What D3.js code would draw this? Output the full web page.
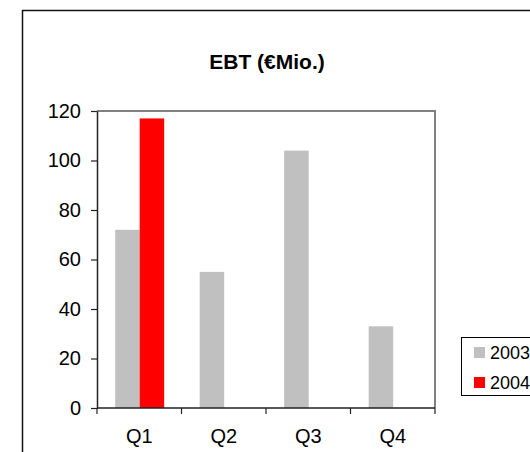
<!DOCTYPE html>
<html>
<head>
<meta charset="utf-8">
<script src="https://cdn.jsdelivr.net/npm/d3@7"></script>
<style>
  html, body { margin: 0; padding: 0; background: #fff; }
  svg { display: block; font-family: "Liberation Sans", Arial, sans-serif; }
</style>
</head>
<body>
<svg id="chart" width="530" height="452"></svg>
<script>
// Quarterly EBT in € million
const quarters = ["Q1", "Q2", "Q3", "Q4"];
const years = ["2003", "2004"];
const ebt2003 = [72, 55, 104, 33];
const ebt2004 = [117, null, null, null];
const yTicks = [0, 20, 40, 60, 80, 100, 120];
const colors = ["#c0c0c0", "#ff0000"];

const seriesValues = [ebt2003, ebt2004];

const svg = d3.select("#chart");

// outer chart frame (runs off the right and bottom edge)
svg.append("rect")
  .attr("x", 22.5).attr("y", 10.5)
  .attr("width", 600).attr("height", 600)
  .attr("fill", "#fff").attr("stroke", "#111").attr("stroke-width", 1.5);

const plot = { left: 97, right: 435, top: 111, bottom: 408 };

const x = d3.scaleBand().domain(quarters).range([plot.left, plot.right]).padding(0);
const xs = d3.scaleBand().domain(years)
  .range([x.bandwidth() * 0.215, x.bandwidth() * 0.795]);
const y = d3.scaleLinear().domain([0, 120]).range([plot.bottom, plot.top]);

// title
svg.append("text")
  .attr("x", 267).attr("y", 69)
  .attr("text-anchor", "middle")
  .attr("font-weight", "bold").attr("font-size", 21)
  .text("EBT (€Mio.)");

// bars
const rows = [];
quarters.forEach((q, i) => {
  years.forEach((yr, j) => {
    const v = seriesValues[j][i];
    if (v != null) rows.push({ q, yr, v, c: colors[j] });
  });
});
svg.append("g").selectAll("rect").data(rows).join("rect")
  .attr("x", d => x(d.q) + xs(d.yr))
  .attr("width", xs.bandwidth())
  .attr("y", d => y(d.v))
  .attr("height", d => y(0) - y(d.v))
  .attr("fill", d => d.c);

// plot area border (top and right)
svg.append("path")
  .attr("d", `M${plot.left},${plot.top}H${plot.right}V${plot.bottom}`)
  .attr("fill", "none").attr("stroke", "#808080").attr("stroke-width", 2);

// y axis
const yAxis = svg.append("g")
  .attr("transform", `translate(${plot.left},0)`)
  .call(d3.axisLeft(y).tickValues(yTicks).tickSize(6).tickPadding(10).tickSizeOuter(0));
yAxis.select(".domain").attr("stroke", "#222").attr("stroke-width", 1.5);
yAxis.selectAll(".tick line").attr("stroke", "#222").attr("stroke-width", 1.2);
yAxis.selectAll(".tick text").attr("font-size", 20).attr("fill", "#000")
  .attr("font-family", "Liberation Sans, Arial, sans-serif");

// x axis with ticks at category boundaries
const xAxis = svg.append("g")
  .attr("transform", `translate(0,${plot.bottom})`);
xAxis.append("path")
  .attr("d", `M${plot.left},0H${plot.right}`)
  .attr("stroke", "#222").attr("stroke-width", 1.5);
const bounds = quarters.map(q => x(q)).concat([x(quarters[quarters.length - 1]) + x.bandwidth()]);
xAxis.selectAll("line.bt").data(bounds).join("line")
  .attr("class", "bt")
  .attr("x1", d => d).attr("x2", d => d)
  .attr("y1", 0).attr("y2", 6)
  .attr("stroke", "#222").attr("stroke-width", 1.2);
xAxis.selectAll("text").data(quarters).join("text")
  .attr("x", d => x(d) + x.bandwidth() / 2)
  .attr("y", 35)
  .attr("text-anchor", "middle")
  .attr("font-size", 20)
  .text(d => d);

// legend
const lg = svg.append("g");
lg.append("rect")
  .attr("x", 461.5).attr("y", 337.5)
  .attr("width", 120).attr("height", 58)
  .attr("fill", "#fff").attr("stroke", "#000").attr("stroke-width", 1);
const items = lg.selectAll("g.item").data(years).join("g")
  .attr("class", "item")
  .attr("transform", (d, i) => `translate(474,${347 + i * 30})`);
items.append("rect")
  .attr("width", 11).attr("height", 11)
  .attr("fill", (d, i) => colors[i]);
items.append("text")
  .attr("x", 16).attr("y", 11.5)
  .attr("font-size", 18)
  .text(d => d);
</script>
</body>
</html>
